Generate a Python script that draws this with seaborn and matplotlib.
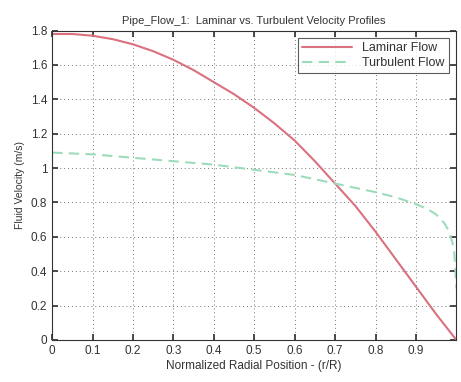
import matplotlib
matplotlib.use("Agg")
import matplotlib.pyplot as plt
import seaborn as sns
import numpy as np

sns.set_theme(style="white")
plt.rcParams['font.family'] = ['Liberation Sans', 'DejaVu Sans']

# Data
r_laminar = [0.0, 0.05, 0.1, 0.15, 0.2, 0.25, 0.3, 0.35, 0.4, 0.45, 0.5, 0.55, 0.6, 0.65,
             0.7, 0.75, 0.8, 0.85, 0.9, 0.95, 1.0]
v_laminar = [1.78, 1.78, 1.77, 1.75, 1.72, 1.68, 1.63, 1.57, 1.50, 1.43, 1.35, 1.26, 1.16, 1.04,
             0.91, 0.78, 0.63, 0.47, 0.31, 0.15, 0.0]
r_turbulent = [0.0, 0.1, 0.2, 0.3, 0.4, 0.5, 0.6, 0.7, 0.8, 0.85, 0.9, 0.93, 0.95, 0.97, 0.98,
               0.99, 0.995, 1.0]
v_turbulent = [1.09, 1.08, 1.06, 1.04, 1.02, 0.99, 0.96, 0.91, 0.86, 0.83, 0.79, 0.76, 0.73, 0.68,
               0.64, 0.57, 0.50, 0.30]
title = "Pipe_Flow_1:  Laminar vs. Turbulent Velocity Profiles"
xlabel = "Normalized Radial Position - (r/R)"
ylabel = "Fluid Velocity (m/s)"
xticks = [0, 0.1, 0.2, 0.3, 0.4, 0.5, 0.6, 0.7, 0.8, 0.9]
yticks = [0, 0.2, 0.4, 0.6, 0.8, 1, 1.2, 1.4, 1.6, 1.8]

fig = plt.figure(figsize=(4.61, 3.82), dpi=100)
ax = fig.add_axes([0.113, 0.11, 0.877, 0.81])

sns.lineplot(x=r_laminar, y=v_laminar, ax=ax, color="#d9717f", linewidth=1.5,
             label="Laminar Flow")
sns.lineplot(x=r_turbulent, y=v_turbulent, ax=ax, color="#9ddcba", linewidth=1.5,
             linestyle=(0, (5, 3)), label="Turbulent Flow")

ax.set_xlim(0, 1)
ax.set_ylim(0, 1.8)
ax.set_xticks(xticks)
ax.set_yticks(yticks)
ax.set_xticklabels([("0" if t == 0 else f"{t:g}") for t in xticks])
ax.set_yticklabels([f"{t:g}" for t in yticks])
ax.tick_params(direction="in", length=4, labelsize=8.5, colors="#333333", top=True, right=True,
               bottom=True, left=True)
ax.grid(True, linestyle=(0, (1, 3)), color="#777777", linewidth=0.7)
for s in ax.spines.values():
    s.set_color("#333333")
    s.set_linewidth(0.8)

ax.set_title(title, fontsize=8, color="#333333", pad=5)
ax.set_xlabel(xlabel, fontsize=8.5, color="#333333", labelpad=2)
ax.set_ylabel(ylabel, fontsize=7.5, color="#333333", labelpad=4)

leg = ax.legend(loc="upper right", fontsize=9, frameon=True, fancybox=False,
                borderpad=0.35, handlelength=4, labelspacing=0.2, borderaxespad=0.6)
leg.get_frame().set_edgecolor("#333333")
leg.get_frame().set_linewidth(0.8)
for t in leg.get_texts():
    t.set_color("#333333")

fig.savefig("out.png", dpi=100, facecolor="white")
